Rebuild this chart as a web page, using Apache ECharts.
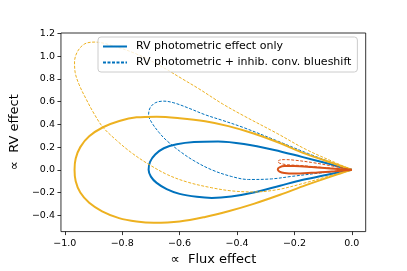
<!DOCTYPE html>
<html><head><meta charset="utf-8">
<script src="https://cdn.jsdelivr.net/npm/echarts@6/dist/echarts.min.js"></script>
<style>html,body{margin:0;padding:0;background:#fff}#c{width:407px;height:271px}</style>
</head><body><div id="c"></div>
<script>
// Tick labels
const xTicks = [-1.0, -0.8, -0.6, -0.4, -0.2, 0.0];
const yTicks = [-0.4, -0.2, 0.0, 0.2, 0.4, 0.6, 0.8, 1.0, 1.2];

// Series names (legend)
const nameSolid = 'RV photometric effect only';
const nameDashed = 'RV photometric + inhib. conv. blueshift';

// Blue solid loop
const blueSolidX = [0,-0.04,-0.09,-0.174,-0.27,-0.376,-0.466,-0.55,-0.61,-0.655,-0.685,-0.703,-0.708,-0.70,-0.68,-0.645,-0.60,-0.54,-0.488,-0.42,-0.342,-0.25,-0.174,-0.09,-0.04,0];
const blueSolidY = [0,0.025,0.06,0.114,0.175,0.228,0.25,0.245,0.225,0.19,0.135,0.07,0,-0.06,-0.115,-0.17,-0.212,-0.238,-0.247,-0.235,-0.20,-0.14,-0.09,-0.045,-0.02,0];

// Blue dashed loop
const blueDashX = [0,-0.05,-0.151,-0.26,-0.376,-0.45,-0.511,-0.57,-0.62,-0.655,-0.685,-0.703,-0.708,-0.698,-0.672,-0.646,-0.60,-0.55,-0.488,-0.42,-0.36,-0.28,-0.207,-0.1,0];
const blueDashY = [0,0.045,0.142,0.255,0.371,0.435,0.485,0.545,0.59,0.605,0.59,0.545,0.485,0.42,0.33,0.26,0.165,0.08,0.0,-0.058,-0.085,-0.08,-0.057,-0.025,0];

// Orange solid loop
const orangeSolidX = [0,-0.05,-0.16,-0.26,-0.342,-0.43,-0.511,-0.6,-0.68,-0.75,-0.81,-0.867,-0.915,-0.946,-0.962,-0.966,-0.962,-0.946,-0.915,-0.87,-0.811,-0.75,-0.69,-0.6,-0.511,-0.43,-0.342,-0.25,-0.16,-0.05,0];
const orangeSolidY = [0,0.045,0.14,0.245,0.32,0.385,0.428,0.455,0.468,0.462,0.43,0.375,0.295,0.2,0.1,0,-0.1,-0.2,-0.29,-0.365,-0.425,-0.455,-0.466,-0.455,-0.415,-0.365,-0.30,-0.22,-0.135,-0.04,0];

// Orange dashed loop
const orangeDashX = [0,-0.05,-0.16,-0.26,-0.376,-0.45,-0.533,-0.59,-0.668,-0.75,-0.83,-0.895,-0.93,-0.955,-0.966,-0.964,-0.95,-0.925,-0.897,-0.867,-0.82,-0.77,-0.713,-0.642,-0.57,-0.488,-0.42,-0.342,-0.26,-0.17,-0.08,0];
const orangeDashY = [0,0.055,0.18,0.32,0.475,0.58,0.714,0.80,0.917,1.02,1.09,1.125,1.11,1.045,0.95,0.86,0.75,0.62,0.49,0.375,0.26,0.155,0.057,-0.043,-0.11,-0.158,-0.185,-0.195,-0.175,-0.12,-0.055,0];

// Red solid loop
const redSolidX = [0,-0.06,-0.14,-0.2,-0.235,-0.252,-0.258,-0.252,-0.235,-0.2,-0.14,-0.06,0];
const redSolidY = [0,0.01,0.025,0.033,0.033,0.022,0.005,-0.015,-0.028,-0.033,-0.026,-0.012,0];

// Red dashed loop
const redDashX = [0,-0.06,-0.14,-0.2,-0.235,-0.252,-0.258,-0.25,-0.225,-0.18,-0.12,-0.06,0];
const redDashY = [0,0.03,0.065,0.085,0.09,0.085,0.072,0.057,0.045,0.038,0.025,0.012,0];

const BLUE = '#0072BD', ORANGE = '#EDB120', RED = '#D95319';
const FONT = 'DejaVu Sans';

function pairs(xs, ys){ return xs.map((x,i)=>[x, ys[i]]); }
function fmt(v){ const a = Math.abs(v).toFixed(1); return (v < -1e-9 ? '\u2212' : '') + a; }
function mk(name, xs, ys, color, width, dashed){
  return {
    name, type:'line', data: pairs(xs, ys), showSymbol:false, symbol:'none',
    smooth:0.35, animation:false,
    lineStyle:{color, width, type: dashed ? [3,1.5] : 'solid'},
    itemStyle:{color}
  };
}

const chart = echarts.init(document.getElementById('c'), null, {renderer:'canvas'});
chart.setOption({
  animation:false,
  grid:{left:51, top:33, right:41.3, bottom:34.3, show:true, borderColor:'#000', borderWidth:0.8, backgroundColor:'transparent'},
  legend:{
    data:[{name:nameSolid},{name:nameDashed}],
    orient:'vertical', left:98, top:37,
    itemWidth:24, itemHeight:10, itemGap:5,
    padding:[4,6,4,4],
    itemStyle:{opacity:0},
    backgroundColor:'rgba(255,255,255,0.8)', borderColor:'#ccc', borderWidth:1, borderRadius:3,
    textStyle:{fontFamily:FONT, fontSize:11, color:'#000', padding:[0,0,0,4]}
  },
  xAxis:{
    type:'value', min:-1.0133, max:0.0483,
    name:'\u221D  Flux effect', nameLocation:'middle', nameGap:19,
    nameTextStyle:{fontFamily:FONT, fontSize:13, color:'#000'},
    axisLine:{show:false, onZero:false}, splitLine:{show:false},
    axisTick:{show:true, inside:false, length:3.5, lineStyle:{color:'#000', width:0.8}, customValues:xTicks},
    axisLabel:{customValues:xTicks, formatter:fmt, fontFamily:FONT, fontSize:9.5, color:'#000', margin:6.5}
  },
  yAxis:{
    type:'value', min:-0.544, max:1.205,
    name:'\u221D  RV effect', nameLocation:'middle', nameGap:32, nameRotate:90,
    nameTextStyle:{fontFamily:FONT, fontSize:13, color:'#000'},
    axisLine:{show:false, onZero:false}, splitLine:{show:false},
    axisTick:{show:true, inside:false, length:3.5, lineStyle:{color:'#000', width:0.8}, customValues:yTicks},
    axisLabel:{customValues:yTicks, formatter:fmt, fontFamily:FONT, fontSize:9.5, color:'#000', margin:6}
  },
  series:[
    mk(nameSolid, blueSolidX, blueSolidY, BLUE, 2, false),
    mk(nameDashed, blueDashX, blueDashY, BLUE, 1, true),
    mk('orange solid', orangeSolidX, orangeSolidY, ORANGE, 2, false),
    mk('orange dashed', orangeDashX, orangeDashY, ORANGE, 1, true),
    mk('red solid', redSolidX, redSolidY, RED, 2, false),
    mk('red dashed', redDashX, redDashY, RED, 1, true)
  ]
});
</script></body></html>
